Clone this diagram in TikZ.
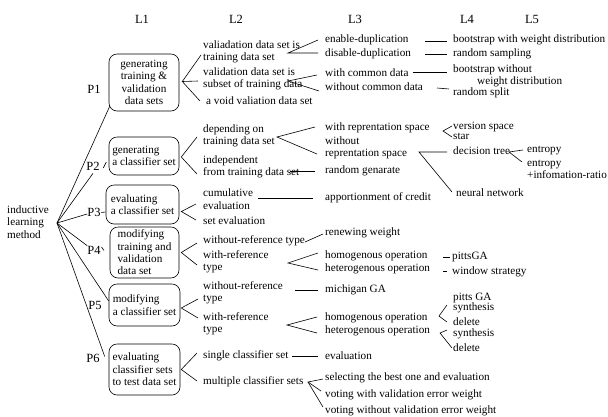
\documentclass[tikz,border=0pt]{standalone}
\usepackage{fontspec}
\setmainfont{Liberation Serif}
\begin{document}
\begin{tikzpicture}[x=1pt,y=-1pt,
  every node/.style={font=\fontsize{11.2}{12.4}\selectfont, inner sep=0pt},
  txt/.style={anchor=west, align=left},
  box/.style={draw, rounded corners=8pt, line width=0.6pt, inner sep=2pt},
  big/.style={font=\fontsize{12.5}{14}\selectfont},
  ln/.style={line width=0.6pt}]
\useasboundingbox (0,0) rectangle (608,416);

% headers
\node[big] (L1) at (142,19) {L1};
\node[big] (L2) at (236,19) {L2};
\node[big] (L3) at (355,19) {L3};
\node[big] (L4) at (467,19) {L4};
\node[big] (L5) at (532,19) {L5};

% root
\node[txt] (root) at (7,222) {inductive\\learning\\method};
\coordinate (hub) at (57,223);

% L1 boxes
\node[box, minimum width=70pt, minimum height=57pt, align=center] (b1) at (144,82.5) {generating\\training \&\\validation\\data sets};
\node[box, minimum width=70pt, minimum height=38pt, align=left] (b2) at (144,156) {generating\\a classifier set};
\node[box, minimum width=73pt, minimum height=39pt, align=left] (b3) at (142.5,204.5) {evaluating\\a classifier set};
\node[box, minimum width=69pt, minimum height=51pt, align=left] (b4) at (144.5,252.5) {modifying\\training and\\validation\\data set};
\node[box, minimum width=71pt, minimum height=42pt, align=left] (b5) at (144.5,305) {modifying\\a classifier set};
\node[box, minimum width=71pt, minimum height=51pt, align=left] (b6) at (144.5,369.5) {evaluating\\classifier sets\\to test data set};

% P labels
\node[big] (p1) at (94,89) {P1};
\node[big] (p2) at (93,166) {P2};
\node[big] (p3) at (94,212) {P3};
\node[big] (p4) at (94,250) {P4};
\node[big] (p5) at (95,305) {P5};
\node[big] (p6) at (93,358) {P6};

% hub lines
\draw[ln] (hub) -- ([shift={(1pt,5pt)}]b1.south west);
\draw[ln] (hub) -- ([yshift=-3pt]p2.south);
\draw[ln] (hub) -- ([yshift=-2pt]p3.west);
\draw[ln] (hub) -- (p4.north west);
\draw[ln] (hub) -- ([yshift=4pt]b5.west);
\draw[ln] (hub) -- ([shift={(-4pt,13pt)}]b6.west);
% ticks
\draw[ln] ([shift={(3.5pt,-2pt)}]p2.east) -- ([shift={(6.5pt,4pt)}]p2.east);
\draw[ln] ([shift={(0.5pt,-0.5pt)}]p3.east) -- ([shift={(4.5pt,0pt)}]p3.east);
\draw[ln] ([shift={(0.7pt,3pt)}]p4.east) -- ([shift={(3.2pt,-0.5pt)}]p4.east);

% L2 texts
\node[txt] (a1) at (203,52) {valiadation data set is\\training data set};
\node[txt] (a2) at (203,79) {validation data set is\\subset of training data};
\node[txt] (a3) at (206,101) {a void valiation data set};
\node[txt] (a4) at (203,136) {depending on\\training data set};
\node[txt] (a5) at (203,167) {independent\\from training data set};
\node[txt] (a6) at (203,199) {cumulative\\evaluation};
\node[txt] (a7) at (203,221) {set evaluation};
\node[txt] (a8) at (203,241) {without-reference type};
\node[txt] (a9) at (203,261.5) {with-reference\\type};
\node[txt] (a10) at (203,293) {without-reference\\type};
\node[txt] (a11) at (203,323.5) {with-reference\\type};
\node[txt] (a12) at (203,356) {single classifier set};
\node[txt] (a13) at (203,382) {multiple classifier sets};

% L3 texts
\node[txt] (c1) at (325,39.5) {enable-duplication};
\node[txt] (c2) at (325,53.5) {disable-duplication};
\node[txt] (c3) at (325,73) {with common data};
\node[txt] (c4) at (325,87) {without common data};
\node[txt] (c5) at (325,128) {with reprentation space};
\node[txt] (c6) at (325,148) {without\\reprentation space};
\node[txt] (c7) at (325,171) {random genarate};
\node[txt] (c8) at (325,198) {apportionment of credit};
\node[txt] (c9) at (325,233) {renewing weight};
\node[txt] (c10) at (325,256) {homogenous operation};
\node[txt] (c11) at (325,269) {heterogenous operation};
\node[txt] (c12) at (325,289.5) {michigan GA};
\node[txt] (c13) at (325,317.5) {homogenous operation};
\node[txt] (c14) at (325,331) {heterogenous operation};
\node[txt] (c15) at (325,355.5) {evaluation};
\node[txt] (c16) at (325,378) {selecting the best one and evaluation};
\node[txt] (c17) at (325,395) {voting with validation error weight};
\node[txt] (c18) at (325,411) {voting without validation error weight};

% L4 texts
\node[txt] (d1) at (453,39.5) {bootstrap with weight distribution};
\node[txt] (d2) at (453,53.5) {random sampling};
\node[txt] (d3) at (453,76) {bootstrap without\\\hspace*{24pt}weight distribution};
\node[txt] (d4) at (453,92.5) {random split};
\node[txt] (d5) at (453,131) {version space\\[-2.5pt]star};
\node[txt] (d6) at (453,151) {decision tree};
\node[txt] (d7) at (456,193) {neural network};
\node[txt] (d8) at (452,257) {pittsGA};
\node[txt] (d9) at (452,272) {window strategy};
\node[txt] (d10) at (453,303) {pitts GA\\[-2.5pt]synthesis};
\node[txt] (d11) at (453,322) {delete};
\node[txt] (d12) at (453,334) {synthesis};
\node[txt] (d13) at (453,348) {delete};

% L5 texts
\node[txt] (e1) at (527,151) {entropy};
\node[txt] (e2) at (527,169.5) {entropy\\+infomation-ratio};

% fans from boxes
\coordinate (fb1) at ([xshift=3pt,yshift=1pt]b1.east);
\draw[ln] ([shift={(-2pt,-3pt)}]a1.west) -- (fb1) -- ([shift={(-5pt,-2pt)}]a2.west);
\draw[ln] (fb1) -- ([xshift=-6pt]a3.west);
\coordinate (fb2) at ([xshift=2pt,yshift=-1pt]b2.east);
\draw[ln] ([shift={(-6pt,-1pt)}]a4.west) -- (fb2) -- ([shift={(-6pt,-7pt)}]a5.west);
\coordinate (fb3) at ([shift={(2pt,-7pt)}]b3.east);
\draw[ln] ([shift={(-7pt,-5pt)}]a6.west) -- (fb3) -- ([shift={(-7pt,1pt)}]a7.west);
\coordinate (fb4) at ([xshift=2pt]b4.east);
\draw[ln] ([shift={(-6pt,-2pt)}]a8.west) -- (fb4) -- ([shift={(-6pt,-3.5pt)}]a9.west);
\coordinate (fb5) at ([shift={(1pt,-3pt)}]b5.east);
\draw[ln] ([shift={(-5pt,-6pt)}]a10.west) -- (fb5) -- ([shift={(-5pt,5.5pt)}]a11.west);
\coordinate (fb6) at ([xshift=1pt]b6.east);
\draw[ln] ([shift={(-6pt,3pt)}]a12.west) -- (fb6) -- ([shift={(-6pt,1pt)}]a13.west);

% L2 -> L3
\coordinate (v1) at (288,53);
\draw[ln] ([shift={(-7pt,-0.5pt)}]c1.west) -- (v1) -- ([shift={(-7pt,0.5pt)}]c2.west);
\coordinate (v2) at (288,81);
\draw[ln] ([shift={(-8pt,-2pt)}]c3.west) -- (v2) -- ([shift={(-6pt,-4pt)}]c4.west);
\coordinate (v3) at (277,137);
\draw[ln] ([shift={(-10pt,1pt)}]c5.west) -- (v3) -- ([shift={(-8pt,-6pt)}]c6.west);
\coordinate (s1) at (290,171);
\draw[ln] (s1) -- ([xshift=-10pt]c7.west);
\coordinate (s2) at (258,198);
\draw[ln] (s2) -- ([xshift=-12pt]c8.west);
\coordinate (s3) at (305,242);
\draw[ln] (s3) -- ([shift={(-2pt,-1pt)}]c9.west);
\coordinate (v4) at (288,263);
\draw[ln] ([shift={(-7pt,3pt)}]c10.west) -- (v4) -- ([shift={(-7pt,-1pt)}]c11.west);
\coordinate (s4) at (295,290);
\draw[ln] (s4) -- ([shift={(-7pt,-0.5pt)}]c12.west);
\coordinate (v5) at (287,325);
\draw[ln] ([shift={(-8pt,0.5pt)}]c13.west) -- (v5) -- ([shift={(-8pt,-2pt)}]c14.west);
\coordinate (s5) at (292,356);
\draw[ln] (s5) -- ([shift={(-7pt,-0.5pt)}]c15.west);
\coordinate (v6) at (308,382);
\draw[ln] ([shift={(-2pt,-1pt)}]c16.west) -- (v6) -- ([shift={(-4pt,4pt)}]c17.west);
\draw[ln] (v6) -- ([shift={(-2pt,4pt)}]c18.west);

% L3 -> L4
\coordinate (s6) at (425,41);
\draw[ln] (s6) -- ([shift={(-6pt,-1.5pt)}]d1.west);
\coordinate (s7) at (425,54);
\draw[ln] (s7) -- ([shift={(-6pt,-0.5pt)}]d2.west);
\coordinate (s8) at (413,72);
\draw[ln] (s8) -- ([shift={(-6pt,4pt)}]d3.west);
\coordinate (s9) at (437,88);
\draw[ln] (s9) -- ([shift={(-4pt,3.5pt)}]d4.west);
\coordinate (v7) at (443,131);
\draw[ln] ([shift={(-1pt,5pt)}]d5.west) -- (v7) -- ([shift={(-1pt,-6pt)}]d5.west);
\coordinate (v8) at (419,152);
\draw[ln] ([shift={(-6pt,-1pt)}]d6.west) -- (v8) -- ([shift={(-4pt,1pt)}]d7.west);
\coordinate (v9) at (509,152);
\draw[ln] ([shift={(-4pt,1pt)}]e1.west) -- (v9) -- ([shift={(-5pt,7.5pt)}]e2.west);
\coordinate (s10) at (443,257);
\draw[ln] (s10) -- ([xshift=-2pt]d8.west);
\coordinate (s11) at (443,271);
\draw[ln] (s11) -- ([shift={(-5pt,1pt)}]d9.west);
\coordinate (v10) at (439,316);
\draw[ln] ([shift={(-6pt,-2pt)}]d10.west) -- (v10) -- ([xshift=-6pt]d11.west);
\coordinate (v11) at (440,333);
\draw[ln] ([shift={(-6pt,4pt)}]d12.west) -- (v11) -- ([xshift=-1pt]d13.west);
\end{tikzpicture}
\end{document}
